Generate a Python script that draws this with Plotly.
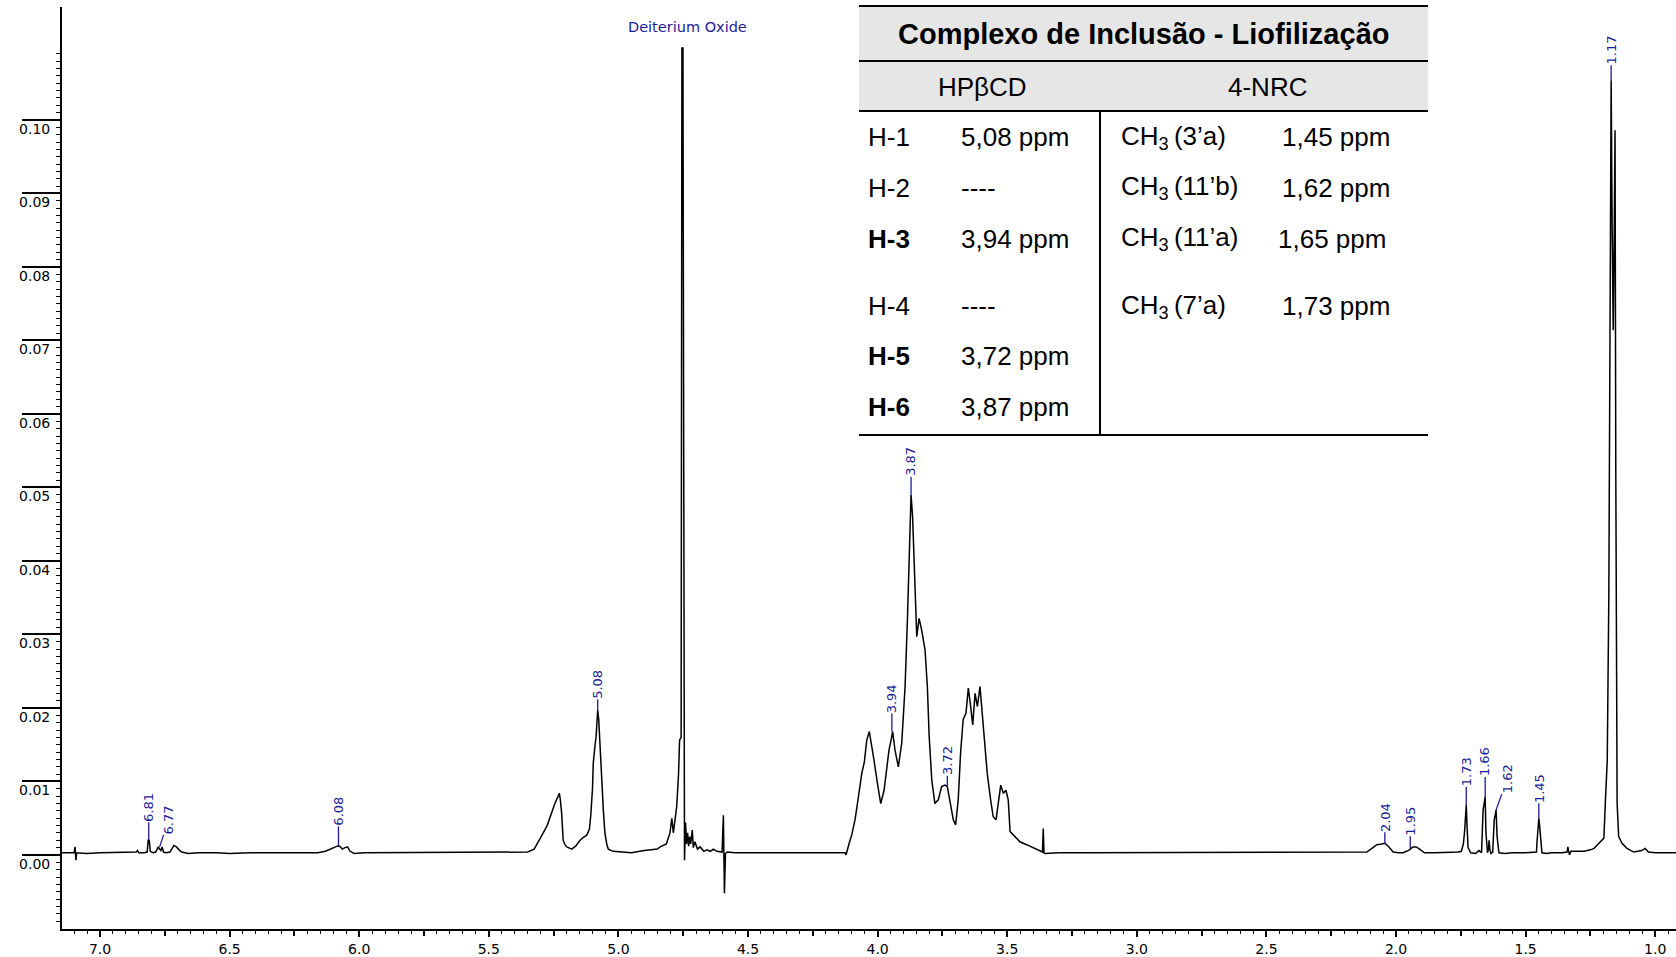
import plotly.graph_objects as go

# ---------------- data ----------------
ppm = [
    7.147, 7.120, 7.100, 7.096, 7.093, 7.090, 7.050, 7.000, 6.950, 6.900, 6.860, 6.855, 6.850, 6.830,
    6.818, 6.814, 6.810, 6.806, 6.795, 6.785, 6.775, 6.770, 6.765, 6.760, 6.755, 6.745, 6.730, 6.715,
    6.705, 6.695, 6.685, 6.660, 6.620, 6.550, 6.500, 6.420, 6.350, 6.300, 6.250, 6.200, 6.160, 6.130,
    6.110, 6.100, 6.085, 6.075, 6.065, 6.055, 6.045, 6.035, 6.020, 5.980, 5.900, 5.800, 5.700, 5.600,
    5.500, 5.400, 5.350, 5.325, 5.315, 5.300, 5.290, 5.275, 5.264, 5.255, 5.245, 5.235, 5.228, 5.224,
    5.219, 5.213, 5.206, 5.199, 5.190, 5.180, 5.165, 5.148, 5.135, 5.122, 5.112, 5.107, 5.100, 5.097,
    5.090, 5.086, 5.082, 5.080, 5.076, 5.071, 5.064, 5.058, 5.052, 5.045, 5.039, 5.020, 4.990, 4.950,
    4.900, 4.850, 4.839, 4.815, 4.801, 4.794, 4.788, 4.782, 4.775, 4.768, 4.764, 4.758, 4.755, 4.751,
    4.748, 4.745, 4.741, 4.737, 4.733, 4.729, 4.725, 4.721, 4.715, 4.711, 4.705, 4.695, 4.685, 4.670,
    4.659, 4.645, 4.634, 4.620, 4.600, 4.595, 4.591, 4.587, 4.580, 4.550, 4.500, 4.450, 4.400, 4.350,
    4.300, 4.250, 4.200, 4.150, 4.125, 4.122, 4.115, 4.108, 4.100, 4.087, 4.074, 4.061, 4.051, 4.042,
    4.032, 4.023, 4.014, 4.001, 3.988, 3.975, 3.965, 3.956, 3.948, 3.942, 3.933, 3.920, 3.907, 3.894,
    3.885, 3.878, 3.871, 3.865, 3.857, 3.849, 3.840, 3.830, 3.817, 3.808, 3.801, 3.791, 3.779, 3.766,
    3.753, 3.740, 3.731, 3.718, 3.708, 3.699, 3.689, 3.680, 3.670, 3.659, 3.650, 3.641, 3.633, 3.624,
    3.615, 3.605, 3.595, 3.586, 3.577, 3.564, 3.554, 3.543, 3.534, 3.525, 3.515, 3.505, 3.496, 3.489,
    3.470, 3.451, 3.425, 3.393, 3.373, 3.364, 3.361, 3.358, 3.354, 3.300, 3.200, 3.100, 3.000, 2.900,
    2.800, 2.700, 2.600, 2.500, 2.400, 2.300, 2.200, 2.150, 2.113, 2.093, 2.074, 2.055, 2.043, 2.030,
    2.011, 1.990, 1.973, 1.960, 1.948, 1.935, 1.922, 1.909, 1.890, 1.850, 1.800, 1.760, 1.748, 1.740,
    1.735, 1.731, 1.729, 1.726, 1.722, 1.712, 1.693, 1.680, 1.670, 1.664, 1.660, 1.656, 1.653, 1.651,
    1.647, 1.643, 1.641, 1.638, 1.634, 1.627, 1.621, 1.617, 1.614, 1.610, 1.608, 1.603, 1.580, 1.550,
    1.500, 1.470, 1.458, 1.456, 1.452, 1.449, 1.446, 1.443, 1.440, 1.437, 1.420, 1.400, 1.360, 1.340,
    1.337, 1.334, 1.331, 1.325, 1.300, 1.274, 1.250, 1.236, 1.217, 1.198, 1.192, 1.185, 1.179, 1.174,
    1.170, 1.166, 1.162, 1.158, 1.155, 1.152, 1.149, 1.147, 1.141, 1.128, 1.109, 1.083, 1.052, 1.039,
    1.026, 1.000, 0.960, 0.920,
]
intensity = [
    0.0003, 0.0003, 0.0003, 0.0011, -0.0007, 0.0003, 0.0002, 0.0003, 0.0003, 0.0003, 0.0004, 0.0006, 0.0003, 0.0003,
    0.0004, 0.0020, 0.0020, 0.0005, 0.0003, 0.0004, 0.0011, 0.0008, 0.0006, 0.0011, 0.0004, 0.0003, 0.0004, 0.0013,
    0.0011, 0.0007, 0.0004, 0.0002, 0.0003, 0.0003, 0.0002, 0.0003, 0.0003, 0.0004, 0.0003, 0.0004, 0.0003, 0.0005,
    0.0008, 0.0010, 0.0012, 0.0012, 0.0008, 0.0010, 0.0011, 0.0005, 0.0002, 0.0003, 0.0003, 0.0003, 0.0003, 0.0003,
    0.0003, 0.0003, 0.0004, 0.0008, 0.0014, 0.0022, 0.0030, 0.0040, 0.0052, 0.0060, 0.0070, 0.0078, 0.0084, 0.0075,
    0.0057, 0.0020, 0.0014, 0.0011, 0.0010, 0.0008, 0.0012, 0.0020, 0.0024, 0.0027, 0.0035, 0.0052, 0.0090, 0.0125,
    0.0150, 0.0161, 0.0185, 0.0197, 0.0185, 0.0156, 0.0102, 0.0060, 0.0030, 0.0015, 0.0008, 0.0005, 0.0004, 0.0003,
    0.0006, 0.0008, 0.0011, 0.0015, 0.0030, 0.0050, 0.0030, 0.0045, 0.0066, 0.0110, 0.0156, 0.0160, 0.1098, 0.1098,
    0.0200, -0.0007, 0.0044, 0.0015, 0.0030, 0.0012, 0.0025, 0.0015, 0.0034, 0.0010, 0.0018, 0.0008, 0.0011, 0.0005,
    0.0007, 0.0005, 0.0008, 0.0005, 0.0004, 0.0054, -0.0052, 0.0002, 0.0004, 0.0003, 0.0003, 0.0003, 0.0003, 0.0003,
    0.0003, 0.0003, 0.0003, 0.0003, 0.0003, 0.0000, 0.0010, 0.0018, 0.0027, 0.0048, 0.0079, 0.0111, 0.0127, 0.0156,
    0.0168, 0.0150, 0.0129, 0.0098, 0.0070, 0.0088, 0.0120, 0.0143, 0.0156, 0.0168, 0.0143, 0.0120, 0.0152, 0.0229,
    0.0320, 0.0410, 0.0490, 0.0460, 0.0388, 0.0297, 0.0322, 0.0306, 0.0279, 0.0229, 0.0161, 0.0102, 0.0070, 0.0075,
    0.0093, 0.0095, 0.0093, 0.0066, 0.0048, 0.0041, 0.0075, 0.0138, 0.0184, 0.0193, 0.0227, 0.0202, 0.0177, 0.0220,
    0.0202, 0.0229, 0.0184, 0.0156, 0.0111, 0.0075, 0.0052, 0.0048, 0.0070, 0.0095, 0.0084, 0.0088, 0.0075, 0.0032,
    0.0025, 0.0018, 0.0014, 0.0009, 0.0005, 0.0004, 0.0036, 0.0003, 0.0002, 0.0003, 0.0003, 0.0003, 0.0003, 0.0003,
    0.0003, 0.0003, 0.0003, 0.0003, 0.0003, 0.0003, 0.0003, 0.0003, 0.0004, 0.0009, 0.0014, 0.0015, 0.0016, 0.0012,
    0.0004, 0.0003, 0.0003, 0.0005, 0.0007, 0.0011, 0.0011, 0.0008, 0.0003, 0.0003, 0.0003, 0.0004, 0.0005, 0.0015,
    0.0034, 0.0060, 0.0068, 0.0040, 0.0010, 0.0003, 0.0002, 0.0006, 0.0003, 0.0061, 0.0070, 0.0079, 0.0030, 0.0020,
    0.0003, 0.0008, 0.0020, 0.0008, 0.0002, 0.0004, 0.0048, 0.0055, 0.0061, 0.0025, 0.0018, 0.0003, 0.0002, 0.0003,
    0.0003, 0.0003, 0.0004, 0.0018, 0.0040, 0.0050, 0.0040, 0.0030, 0.0012, 0.0003, 0.0002, 0.0003, 0.0003, 0.0004,
    0.0011, 0.0001, 0.0000, 0.0005, 0.0005, 0.0005, 0.0007, 0.0009, 0.0016, 0.0023, 0.0075, 0.0129, 0.0350, 0.0750,
    0.1054, 0.0850, 0.0714, 0.0850, 0.0986, 0.0517, 0.0200, 0.0071, 0.0025, 0.0016, 0.0009, 0.0004, 0.0006, 0.0009,
    0.0004, 0.0003, 0.0003, 0.0003,
]

peak_text = ["6.81", "6.77", "6.08", "5.08", "3.94", "3.87", "3.72", "2.04", "1.95", "1.73", "1.66", "1.62", "1.45", "1.17"]
peak_ppm = [6.812, 6.770, 6.080, 5.080, 3.945, 3.871, 3.731, 2.043, 1.945, 1.729, 1.656, 1.614, 1.449, 1.170]
peak_top = [0.0020, 0.0011, 0.0012, 0.0197, 0.0168, 0.0490, 0.0093, 0.0016, 0.0009, 0.0068, 0.0079, 0.0061, 0.0050, 0.1054]

solvent_text = "Deiterium Oxide"
solvent_ppm = 4.735

x_label_vals = [7.0, 6.5, 6.0, 5.5, 5.0, 4.5, 4.0, 3.5, 3.0, 2.5, 2.0, 1.5, 1.0]
x_label_text = ["7.0", "6.5", "6.0", "5.5", "5.0", "4.5", "4.0", "3.5", "3.0", "2.5", "2.0", "1.5", "1.0"]
x_mid_vals = [6.75, 6.25, 5.75, 5.25, 4.75, 4.25, 3.75, 3.25, 2.75, 2.25, 1.75, 1.25]
y_tick_vals = [0.00, 0.01, 0.02, 0.03, 0.04, 0.05, 0.06, 0.07, 0.08, 0.09, 0.10]
y_tick_text = ["0.00", "0.01", "0.02", "0.03", "0.04", "0.05", "0.06", "0.07", "0.08", "0.09", "0.10"]

table_title = "Complexo de Inclusão - Liofilização"
table_headers = ["HPβCD", "4-NRC"]
hp_labels = ["H-1", "H-2", "H-3", "H-4", "H-5", "H-6"]
hp_bold = [False, False, True, False, True, True]
hp_values = ["5,08 ppm", "----", "3,94 ppm", "----", "3,72 ppm", "3,87 ppm"]
nrc_labels = ["CH<sub>3</sub>\u2009(3’a)", "CH<sub>3</sub>\u2009(11’b)", "CH<sub>3</sub>\u2009(11’a)", "CH<sub>3</sub>\u2009(7’a)"]
nrc_values = ["1,45 ppm", "1,62 ppm", "1,65 ppm", "1,73 ppm"]

# ---------------- styling / layout ----------------
W, H = 1676, 957
PL, PR, PT, PB = 62, 1676, 7, 929
BLUE = "#1c1c96"
TICKFONT = "DejaVu Sans"
TABFONT = "Liberation Sans, Arial, sans-serif"
X_RANGE = [7.1466, 0.9198]
Y_RANGE = [-0.01007, 0.11537]


def fx(px):
    return (px - PL) / (PR - PL)


def fy(py):
    return (PB - py) / (PB - PT)


# minor tick positions on the intensity axis (every 0.001, as drawn by the instrument software)
y_minor = [k / 1000 for k in range(-9, 110) if k % 10 != 0]

fig = go.Figure()
fig.add_trace(go.Scatter(x=ppm, y=intensity, mode="lines",
                         line=dict(color="black", width=1.5), hoverinfo="skip",
                         showlegend=False))
# carrier for the secondary (mid-tick) x axis
fig.add_trace(go.Scatter(x=[None], y=[None], xaxis="x2", mode="lines",
                         hoverinfo="skip", showlegend=False))

annotations = []
label_dx = [0, 9, 0, 0, 0, 0, 0, 0, 0, 0, 0, 11, 0, 0]
label_line = [18, 12, 20, 11, 18, 18, 11, 11, 12, 18, 20, 16, 15, 15]
for t, xv, yv, dx, ln in zip(peak_text, peak_ppm, peak_top, label_dx, label_line):
    annotations.append(dict(
        x=xv, y=yv, xref="x", yref="y", text=t, textangle=-90,
        showarrow=True, arrowhead=0, arrowwidth=1.3, arrowcolor=BLUE,
        ax=dx, ay=-(ln + 15), standoff=0, borderpad=0,
        font=dict(family=TICKFONT, size=13, color=BLUE)))

annotations.append(dict(x=solvent_ppm, y=fy(17), xref="x", yref="paper", text=solvent_text,
                        showarrow=False, font=dict(family=TICKFONT, size=14.5, color=BLUE)))

# table geometry (pixels)
T_L, T_R, T_TOP, T_TITLE, T_HEAD, T_BOT, T_DIV = 859, 1428, 6, 61, 111, 435, 1100
shapes = [
    dict(type="rect", xref="paper", yref="paper", x0=fx(T_L), x1=fx(T_R), y0=fy(T_HEAD), y1=fy(T_TOP),
         fillcolor="#e6e6e6", line=dict(width=0), layer="below"),
]
for yy in (T_TOP, T_TITLE, T_HEAD, T_BOT):
    shapes.append(dict(type="line", xref="paper", yref="paper", x0=fx(T_L), x1=fx(T_R),
                       y0=fy(yy), y1=fy(yy), line=dict(color="black", width=2)))
shapes.append(dict(type="line", xref="paper", yref="paper", x0=fx(T_DIV), x1=fx(T_DIV),
                   y0=fy(T_HEAD), y1=fy(T_BOT), line=dict(color="black", width=2)))

annotations.append(dict(x=fx(1143), y=fy(34), xref="paper", yref="paper", text="<b>" + table_title + "</b>",
                        showarrow=False, xanchor="center", yanchor="middle",
                        font=dict(family=TABFONT, size=29, color="black")))
for t, cx in zip(table_headers, (982, 1267)):
    annotations.append(dict(x=fx(cx), y=fy(87), xref="paper", yref="paper", text=t,
                            showarrow=False, xanchor="center", yanchor="middle",
                            font=dict(family=TABFONT, size=26, color="black")))
row_y = [137, 188, 239, 306, 356, 407]
for lab, bold, val, ry in zip(hp_labels, hp_bold, hp_values, row_y):
    annotations.append(dict(x=fx(866), y=fy(ry), xref="paper", yref="paper",
                            text=("<b>%s</b>" % lab) if bold else lab, showarrow=False,
                            xanchor="left", yanchor="middle",
                            font=dict(family=TABFONT, size=26, color="black")))
    annotations.append(dict(x=fx(959), y=fy(ry), xref="paper", yref="paper", text=val,
                            showarrow=False, xanchor="left", yanchor="middle",
                            font=dict(family=TABFONT, size=26, color="black")))
val_x = [1280, 1280, 1276, 1280]
for lab, val, ry, vx in zip(nrc_labels, nrc_values, row_y[:4], val_x):
    annotations.append(dict(x=fx(1119), y=fy(ry), xref="paper", yref="paper", text=lab,
                            showarrow=False, xanchor="left", yanchor="middle",
                            font=dict(family=TABFONT, size=26, color="black")))
    annotations.append(dict(x=fx(vx), y=fy(ry), xref="paper", yref="paper", text=val,
                            showarrow=False, xanchor="left", yanchor="middle",
                            font=dict(family=TABFONT, size=26, color="black")))

fig.update_layout(
    width=W, height=H,
    margin=dict(l=PL, r=W - PR, t=PT, b=H - PB, pad=0),
    paper_bgcolor="white", plot_bgcolor="white",
    showlegend=False,
    annotations=annotations, shapes=shapes,
    xaxis=dict(range=X_RANGE, autorange=False, showgrid=False, zeroline=False,
               showline=True, linecolor="black", linewidth=2,
               tickmode="array", tickvals=x_label_vals, ticktext=x_label_text,
               ticks="outside", ticklen=6, tickwidth=1.5, tickcolor="black",
               tickfont=dict(family=TICKFONT, size=14, color="black"),
               minor=dict(dtick=0.05, tick0=0, ticks="outside", ticklen=3, tickwidth=1.2,
                          tickcolor="black", showgrid=False)),
    xaxis2=dict(range=X_RANGE, autorange=False, overlaying="x", anchor="y", side="bottom",
                showgrid=False, zeroline=False, showline=False, showticklabels=False,
                tickmode="array", tickvals=x_mid_vals,
                ticks="outside", ticklen=6, tickwidth=1.5, tickcolor="black"),
    yaxis=dict(range=Y_RANGE, autorange=False, showgrid=False, zeroline=False,
               showline=True, linecolor="black", linewidth=2,
               tickmode="array", tickvals=y_tick_vals, ticktext=y_tick_text,
               ticks="outside", ticklen=38, tickwidth=1.5, tickcolor="black",
               ticklabelstandoff=-31, ticklabelshift=9,
               tickfont=dict(family=TICKFONT, size=14, color="black"),
               minor=dict(tickmode="array", tickvals=y_minor, ticks="outside", ticklen=4,
                          tickwidth=1.2, tickcolor="black", showgrid=False)),
)

fig.write_html("out.html")
